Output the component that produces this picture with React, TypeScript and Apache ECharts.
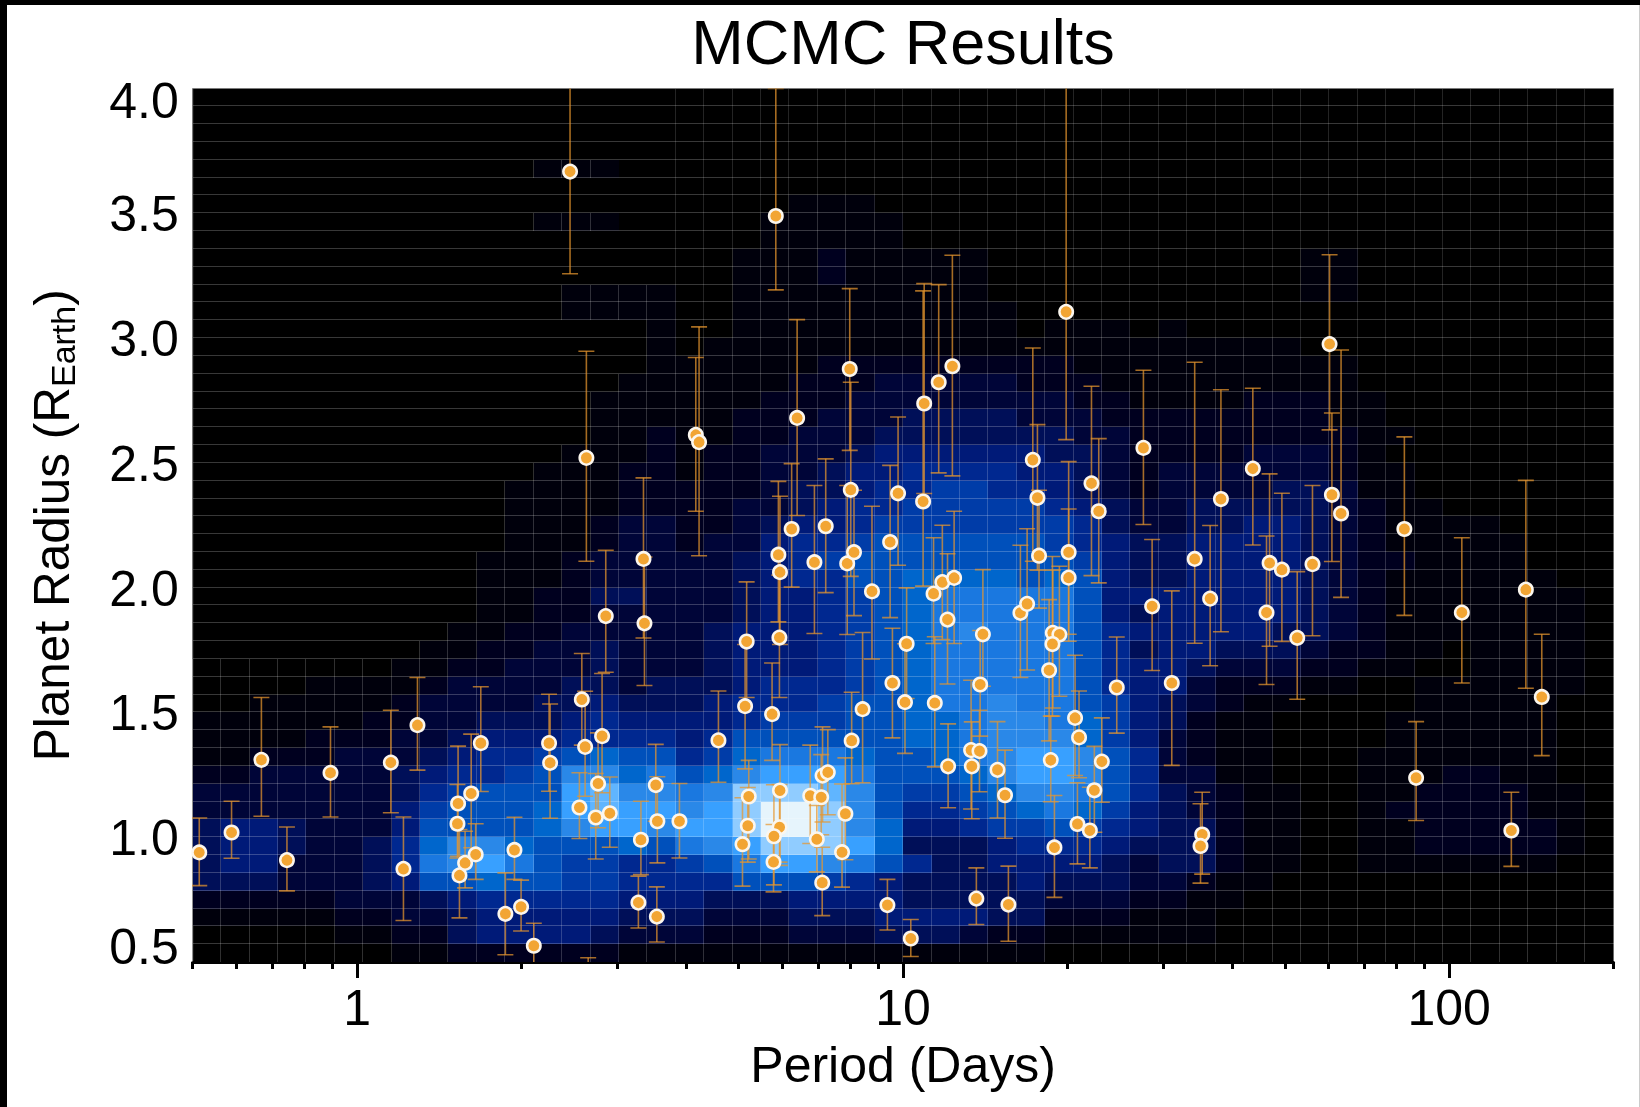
import React, { useEffect, useRef } from "react";
import * as echarts from "echarts";

const FONT = "'Liberation Sans', Arial, sans-serif";

const periods = [
  0.514, 0.589, 0.668, 0.744, 0.894, 1.153, 1.29, 1.216, 1.531, 1.527, 1.54, 1.577, 1.618, 1.649, 1.685, 1.942, 1.869, 1.997, 2.107, 2.247, 2.257, 2.58, 2.616, 2.554, 2.854, 2.81, 2.763, 2.736, 2.903, 3.346, 3.36, 3.31, 3.524, 3.548, 3.275, 3.54, 2.63, 2.455, 2.65, 3.894,
  4.59, 5.17, 5.136, 5.755, 5.936, 5.95, 5.91, 6.25, 5.846, 4.172, 4.23, 6.396, 7.985, 8.02, 7.216, 6.88, 9.467, 9.79, 8.77, 10.93, 10.88, 11.62, 12.31, 17.28, 17.62, 19.89, 20.1, 20.1, 22.13, 22.82, 27.55, 16.4, 16.87, 17.74, 7.9, 8.13, 8.43, 8.05, 9.56, 10.15,
  10.08, 11.43, 11.37, 11.8, 12.4, 12.06, 14.0, 13.84, 12.09, 13.32, 13.8, 13.36, 14.89, 15.37, 18.51, 18.8, 19.33, 18.77, 18.64, 18.93, 20.65, 21.0, 23.12, 24.62, 22.4, 20.86, 21.98, 13.62, 15.59, 9.36, 10.33, 5.216, 5.195, 5.08, 5.95, 5.94, 5.8, 5.79, 6.76, 7.08,
  6.95, 7.12, 7.28, 7.84, 7.73, 7.11, 28.58, 31.05, 34.2, 36.5, 38.2, 43.7, 46.9, 46.3, 49.4, 52.7, 56.2, 60.4, 61.0, 63.4, 82.8, 105.5, 138.2, 147.8, 87.0, 130, 35.3, 35.05,
];
const radii = [
  0.939, 1.019, 1.31, 0.908, 1.258, 1.299, 1.449, 0.873, 1.135, 1.054, 0.847, 0.897, 1.175, 0.931, 1.377, 0.949, 0.693, 0.721, 0.565, 1.377, 1.298, 1.552, 1.362, 1.119, 1.886, 1.405, 1.215, 1.079, 1.096, 2.115, 1.857, 0.99, 1.209, 1.064, 0.738, 0.682, 2.52, 3.667, 0.4, 1.064,
  1.388, 1.784, 1.525, 1.493, 1.8, 2.062, 2.132, 2.235, 3.489, 2.612, 2.583, 2.68, 2.876, 2.392, 2.246, 2.102, 2.183, 2.378, 1.985, 2.738, 2.345, 2.823, 2.887, 2.512, 2.36, 3.105, 2.142, 2.04, 2.418, 2.306, 2.56, 1.899, 1.935, 2.128, 2.097, 2.142, 1.513, 1.387, 1.618, 1.775,
  1.541, 1.538, 1.976, 2.022, 2.039, 1.872, 1.813, 1.612, 1.284, 1.349, 1.345, 1.284, 1.27, 1.168, 1.669, 1.819, 1.812, 1.774, 1.309, 0.959, 1.478, 1.4, 1.303, 1.6, 1.188, 1.053, 1.027, 0.754, 0.73, 0.728, 0.594, 1.163, 1.046, 0.972, 1.187, 1.04, 1.004, 0.901, 1.166, 1.16,
  0.992, 1.247, 1.26, 1.094, 0.94, 0.818, 1.925, 1.618, 2.115, 1.956, 2.355, 2.477, 2.099, 1.9, 2.072, 1.799, 2.094, 2.976, 2.372, 2.297, 2.235, 1.9, 1.992, 1.562, 1.238, 1.027, 1.011, 0.965,
];
const radiiUpper = [
  1.077, 1.144, 1.56, 1.041, 1.442, 1.509, 1.64, 1.081, 1.365, 1.211, 1.031, 1.024, 1.413, 1.054, 1.603, 1.08, 0.857, 0.828, 0.655, 1.573, 1.534, 1.736, 1.585, 1.258, 2.15, 1.656, 1.418, 1.255, 1.241, 2.44, 2.123, 1.144, 1.372, 1.242, 0.844, 0.801, 2.947, 4.1, 0.517, 1.215,
  1.586, 2.023, 1.772, 1.698, 2.05, 2.366, 2.426, 2.497, 4.0, 2.922, 3.045, 3.074, 3.198, 2.823, 2.516, 2.409, 2.49, 2.684, 2.326, 3.218, 3.189, 3.214, 3.332, 2.96, 2.653, 4.1, 2.505, 2.315, 2.807, 2.597, 2.871, 2.17, 2.236, 2.39, 2.409, 2.39, 1.82, 1.581, 1.837, 1.999,
  1.775, 1.803, 2.2, 2.25, 2.306, 2.136, 2.072, 1.828, 1.454, 1.629, 1.509, 1.462, 1.463, 1.349, 1.952, 2.07, 2.086, 2.125, 1.485, 1.167, 1.729, 1.586, 1.478, 1.802, 1.364, 1.218, 1.2, 0.877, 0.884, 0.831, 0.67, 1.308, 1.199, 1.158, 1.371, 1.211, 1.21, 1.051, 1.369, 1.331,
  1.127, 1.442, 1.431, 1.318, 1.213, 0.96, 2.193, 1.987, 2.903, 2.249, 2.793, 2.799, 2.456, 2.207, 2.378, 2.064, 2.409, 3.334, 2.7, 2.952, 2.604, 2.2, 2.43, 1.813, 1.463, 1.18, 1.18, 1.134,
];
const radiiLower = [
  0.806, 0.916, 1.084, 0.785, 1.081, 1.098, 1.269, 0.666, 0.924, 0.917, 0.677, 0.797, 0.958, 0.831, 1.183, 0.831, 0.529, 0.624, 0.44, 1.184, 1.076, 1.369, 1.164, 0.995, 1.661, 1.178, 1.038, 0.913, 0.96, 1.798, 1.608, 0.85, 1.064, 0.897, 0.636, 0.58, 2.106, 3.258, 0.3, 0.917,
  1.22, 1.56, 1.274, 1.308, 1.56, 1.772, 1.863, 2.002, 3.193, 2.306, 2.128, 2.289, 2.55, 2.045, 1.98, 1.816, 1.88, 2.09, 1.714, 2.377, 2.006, 2.46, 2.448, 2.106, 2.07, 2.593, 1.813, 1.785, 2.048, 2.019, 2.253, 1.64, 1.67, 1.918, 1.812, 1.888, 1.218, 1.214, 1.398, 1.556,
  1.336, 1.282, 1.776, 1.792, 1.776, 1.614, 1.605, 1.405, 1.118, 1.113, 1.182, 1.074, 1.077, 0.996, 1.386, 1.518, 1.565, 1.485, 1.142, 0.759, 1.247, 1.238, 1.14, 1.417, 1.02, 0.893, 0.877, 0.65, 0.583, 0.628, 0.522, 0.913, 0.9, 0.804, 0.887, 0.9, 0.809, 0.781, 0.975, 1.01,
  0.861, 1.061, 1.09, 0.91, 0.8, 0.686, 1.668, 1.288, 1.777, 1.687, 1.823, 2.171, 1.765, 1.612, 1.784, 1.553, 1.807, 2.632, 2.105, 1.961, 1.889, 1.618, 1.597, 1.327, 1.067, 0.883, 0.852, 0.816,
];

// density level (hex digit) per cell; first string is the lowest radius row, 50 columns of period
const heatRows = [
  "00000001122222211 11111111111110000 0000000000000000",
  "00000112245555433 32223334443221111 1100000000000000",
  "11111223345555544 43334445555442221 1100000000000000",
  "22222333456666655 54445555444443332 2110000000000000",
  "44433345889887766 66888765444454443 3211000000000000",
  "45533346abca87766 78accba8644555543 4421100111111100",
  "455433469bb988898 abceeec9444566654 4421100112222210",
  "455433358888 9bccb cceffeb9556778765 4421100112222210",
  "333333357888 9cdcc bceffeb866789a975 4321100122222110",
  "3333333467888cdbb abeeedb87789bba86 4321100112222110",
  "2233333456678bb9a 89bccca8889bccb86 3311000111221100",
  "11222333456678988 679aaa9889abccb86 3211000111111100",
  "11112223345556666 5688888899abbb975 3211000011111100",
  "11111122334445655 5567778899abba975 4211000011111100",
  "00111112333344544 456667889aabaa875 4321100001111100",
  "00001111233334434 445666789aaaaa865 5322211001111110",
  "00000001122333433 345556789aaaaa865 5433322110011110",
  "00000000112233433 345556789aaaaa864 5544432211011110",
  "00000000011223333 345556789abaaa865 5555443211111110",
  "00000000001122333 334556789aaaaa854 5555543211111110",
  "00000000001122443 334556789aaaaa855 5555543211111110",
  "00000000001112333 33456688999989854 4555543211111100",
  "00000000001112333 33456788888888754 4555543221111000",
  "00000000000111233 23356678888887654 4555543211111000",
  "00000000000111233 22345567777777643 3445543211110000",
  "00000000000111122 22334566777776543 3444443211000000",
  "00000000000111122 22234456677665432 3333443110000000",
  "00000000000011122 12233455666655432 3333332110000000",
  "00000000000001112 12233345555554432 2223332100000000",
  "00000000000000112 11223334444444332 2222222110000000",
  "00000000000000111 11222333444433322 2222221100000000",
  "00000000000000111 11122233333333221 1112221100000000",
  "00000000000000011 11112223333322211 1111111000000000",
  "00000000000000001 11111222222222111 1111111000000000",
  "00000000000000001 01111111111111111 1111100000000000",
  "00000000000000001 00111111111101110 1000000000000000",
  "00000000000001111 00111111111100000 0000000000000000",
  "00000000000001111 00111111111000000 0000011000000000",
  "00000000000000000 00111211111000000 0000011000000000",
  "00000000000000000 00111211111000000 0000011000000000",
  "00000000000000000 00011111000000000 0000000000000000",
  "00000000000011100 00011111000000000 0000000000000000",
  "00000000000000000 00001110000000000 0000000000000000",
  "00000000000000000 00000000000000000 0000000000000000",
  "00000000000011100 00000000000000000 0000000000000000",
  "00000000000000000 00000000000000000 0000000000000000",
  "00000000000000000 00000000000000000 0000000000000000",
  "00000000000000000 00000000000000000 0000000000000000",
  "00000000000000000 00000000000000000 0000000000000000",
];
const heatColors = ["#000000", "#00000c", "#00001f", "#000538", "#000f58", "#001a78", "#002890", "#003ca8", "#0050bb", "#0066cc", "#1a78e0", "#2a88e8", "#38a0ff", "#60b5ff", "#90ccff", "#e6f4fc"];

const xMin = 0.5;
const xMax = 200;
const yMin = 0.5;
const yMax = 4;
const majorTicks = [1, 10, 100];
const minorTicks = [0.5, 0.6, 0.7, 0.8, 0.9, 2, 3, 4, 5, 6, 7, 8, 9, 20, 30, 40, 50, 60, 70, 80, 90, 200];

const nCols = 50;
const nRows = 49;
const xEdge = (c: number) => xMin * Math.pow(xMax / xMin, c / nCols);
const yEdge = (r: number) => yMin + ((yMax - yMin) * r) / nRows;

const heatData: number[][] = [];
heatRows.forEach((row, r) => {
  row.replace(/ /g, "").split("").forEach((ch, c) => {
    heatData.push([xEdge(c), xEdge(c + 1), yEdge(r), yEdge(r + 1), parseInt(ch, 16), r, c]);
  });
});
const errData = periods.map((p, i) => [p, radiiLower[i], radiiUpper[i]]);
const pointData = periods.map((p, i) => [p, radii[i]]);

function cellBox(api: any) {
  const a = api.coord([api.value(0), api.value(2)]);
  const b = api.coord([api.value(1), api.value(3)]);
  return { x0: Math.round(a[0]), x1: Math.round(b[0]), y0: Math.round(a[1]), y1: Math.round(b[1]) };
}

function renderCell(_: any, api: any) {
  const { x0, x1, y0, y1 } = cellBox(api);
  const level = api.value(4);
  if (level === 0) return { type: "group", children: [] };
  return { type: "rect", shape: { x: x0, y: y1, width: x1 - x0, height: y0 - y1 }, style: { fill: heatColors[level] } };
}

function renderGridLines(_: any, api: any) {
  const { x0, x1, y0, y1 } = cellBox(api);
  const level = api.value(4);
  const r = api.value(5);
  const c = api.value(6);
  const children: any[] = [
    { type: "line", shape: { x1: x0, y1: y1 - 0.5, x2: x1, y2: y1 - 0.5 }, style: { stroke: "rgba(255,255,255,0.22)", lineWidth: 1 } },
  ];
  if (level > 0 || r <= 16 || c >= 17) {
    const alpha = level === 0 && r > 16 ? 0.14 : 0.19;
    children.push({ type: "line", shape: { x1: x0 - 0.5, y1: y1, x2: x0 - 0.5, y2: y0 }, style: { stroke: `rgba(255,255,255,${alpha})`, lineWidth: 1 } });
  }
  return { type: "group", children };
}

function renderErr(_: any, api: any) {
  const lo = api.coord([api.value(0), api.value(1)]);
  const hi = api.coord([api.value(0), api.value(2)]);
  const st = { stroke: "#e6962e", lineWidth: 1.6, opacity: 0.72 };
  const x = lo[0];
  return {
    type: "group",
    children: [
      { type: "line", shape: { x1: x, y1: lo[1], x2: x, y2: hi[1] }, style: st },
      { type: "line", shape: { x1: x - 8, y1: lo[1], x2: x + 8, y2: lo[1] }, style: st },
      { type: "line", shape: { x1: x - 8, y1: hi[1], x2: x + 8, y2: hi[1] }, style: st },
    ],
  };
}

const labelStyle = { fontFamily: FONT, fontSize: 50, color: "#000" };

export default function App() {
  const ref = useRef<HTMLDivElement>(null);
  useEffect(() => {
    const chart = echarts.init(ref.current!, null, { renderer: "svg" });
    chart.setOption({
      animation: false,
      backgroundColor: "#fff",
      title: {
        text: "MCMC Results",
        left: 898,
        top: 5,
        textAlign: "center",
        textStyle: { fontFamily: FONT, fontSize: 63, fontWeight: "normal", color: "#000" },
      },
      grid: { left: 192.7, right: 26.5, top: 88.5, bottom: 145, show: true, backgroundColor: "#000", borderColor: "#6a6a6a", borderWidth: 1 },
      xAxis: [
        {
          type: "log",
          logBase: 10,
          min: xMin,
          max: xMax,
          position: "bottom",
          name: "Period (Days)",
          nameLocation: "middle",
          nameGap: 78,
          nameTextStyle: { fontFamily: FONT, fontSize: 50, color: "#000" },
          axisLine: { show: true, lineStyle: { color: "#000", width: 3 } },
          axisTick: { show: true, customValues: majorTicks, length: 16, lineStyle: { color: "#000", width: 3 } },
          axisLabel: { show: true, customValues: majorTicks, margin: 21, formatter: (v: number) => String(v), ...labelStyle },
          splitLine: { show: false },
          minorTick: { show: false },
        },
        {
          type: "log",
          logBase: 10,
          min: xMin,
          max: xMax,
          position: "bottom",
          axisLine: { show: false },
          axisTick: { show: true, customValues: minorTicks, length: 7, lineStyle: { color: "#000", width: 3 } },
          axisLabel: { show: false },
          splitLine: { show: false },
        },
      ],
      yAxis: {
        type: "value",
        min: yMin,
        max: yMax,
        interval: 0.5,
        axisLine: { show: false },
        axisTick: { show: false },
        splitLine: { show: false },
        axisLabel: {
          margin: 14,
          ...labelStyle,
          formatter: (v: number) => {
            const t = v.toFixed(1);
            if (v === yMax) return `{top|${t}}`;
            if (v === yMin) return `{bot|${t}}`;
            return `{mid|${t}}`;
          },
          rich: {
            top: { ...labelStyle, padding: [24, 0, 0, 0] },
            bot: { ...labelStyle, padding: [0, 0, 31, 0] },
            mid: { ...labelStyle, padding: [2, 0, 0, 0] },
          },
        },
        name: "{m|Planet Radius (R}{s|Earth}{m|)}",
        nameLocation: "middle",
        nameRotate: 90,
        nameGap: 113,
        nameTextStyle: {
          rich: {
            m: { fontFamily: FONT, fontSize: 49.5, color: "#000", lineHeight: 56 },
            s: { fontFamily: FONT, fontSize: 34, color: "#000", lineHeight: 34, verticalAlign: "bottom" },
          },
        },
      },
      series: [
        {
          type: "custom",
          name: "density",
          silent: true,
          renderItem: renderCell,
          encode: { x: [0, 1], y: [2, 3] },
          data: heatData,
          clip: true,
          z: 1,
        },
        {
          type: "custom",
          name: "cell edges",
          silent: true,
          renderItem: renderGridLines,
          encode: { x: [0, 1], y: [2, 3] },
          data: heatData,
          clip: true,
          z: 2,
        },
        {
          type: "custom",
          name: "errors",
          silent: true,
          renderItem: renderErr,
          encode: { x: 0, y: [1, 2] },
          data: errData,
          clip: true,
          z: 3,
        },
        {
          type: "scatter",
          name: "planets",
          silent: true,
          data: pointData,
          symbol: "circle",
          symbolSize: 13.5,
          itemStyle: { color: "#f2a533", borderColor: "#fbf6ee", borderWidth: 2.5, opacity: 1 },
          clip: true,
          z: 4,
        },
      ],
    });
    return () => chart.dispose();
  }, []);
  return (
    <div style={{ position: "fixed", left: 0, top: 0, width: 1640, height: 1107, background: "#fff", overflow: "hidden" }}>
      <div ref={ref} style={{ position: "absolute", left: 0, top: 0, width: 1640, height: 1107, filter: "blur(0.5px)" }} />
      <div style={{ position: "absolute", left: 0, top: 0, width: 7, height: 1107, background: "#000" }} />
      <div style={{ position: "absolute", left: 0, top: 0, width: 1640, height: 5, background: "#000" }} />
      <div style={{ position: "absolute", left: 1639, top: 5, width: 1, height: 1102, background: "#ccc" }} />
    </div>
  );
}
